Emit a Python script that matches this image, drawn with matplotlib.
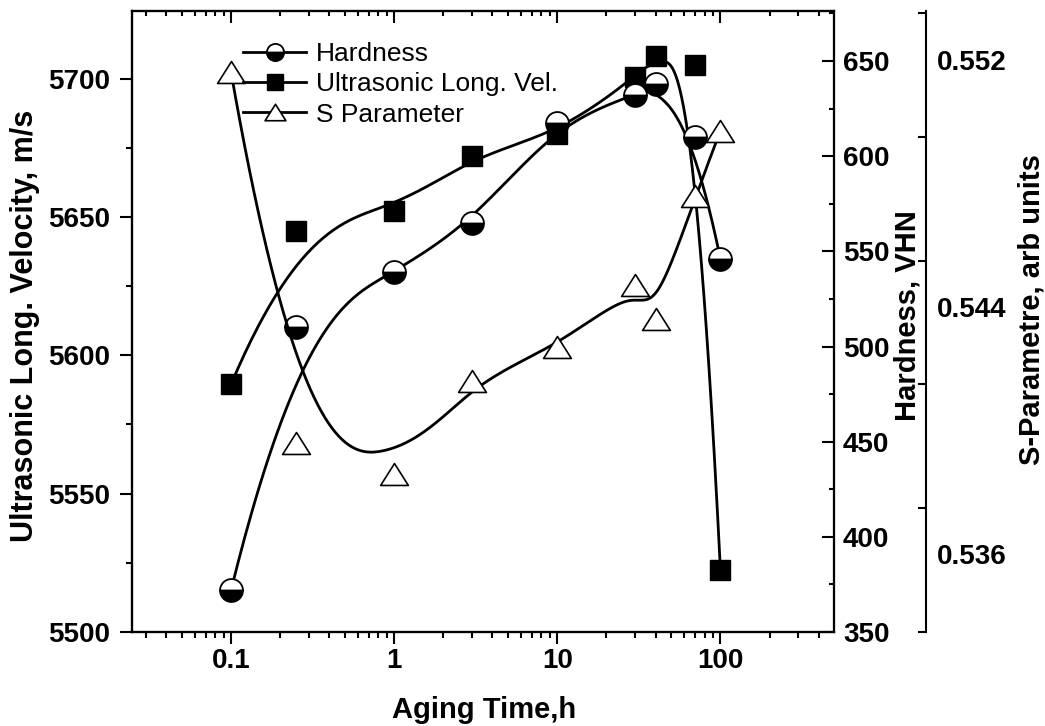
import numpy as np
import matplotlib
matplotlib.use('Agg')
import matplotlib.pyplot as plt
from matplotlib.lines import Line2D
from matplotlib.path import Path
from matplotlib.ticker import MultipleLocator, LogLocator, NullFormatter, FixedLocator

plt.rcParams['font.family'] = ['Liberation Sans', 'DejaVu Sans']

# data
aging_time = [0.1, 0.25, 1, 3, 10, 30, 40, 70, 100]
hardness = [372, 510, 539, 565, 617.5, 632, 638, 610, 546]
velocity = [5589.5, 5645, 5652, 5672, 5680, 5700.5, 5708, 5705, 5522.5]
s_param = [0.5516, 0.5396, 0.5386, 0.5416, 0.5427, 0.5447, 0.5436, 0.5476, 0.5497]

hard_ticks = [350, 400, 450, 500, 550, 600, 650]
vel_ticks = [5500, 5550, 5600, 5650, 5700]
s_ticks = [0.536, 0.544, 0.552]


def bspline(xs, ys, n=500, k=3):
    # clamped cubic B-spline with the points as control points (log x)
    px = np.log10(np.asarray(xs, float))
    py = np.asarray(ys, float)
    m = len(px)
    knots = np.concatenate([np.zeros(k), np.arange(m - k + 1), np.full(k, m - k)]).astype(float)
    t = np.linspace(0, m - k, n)
    t[-1] -= 1e-9

    def basis(i, p):
        if p == 0:
            return ((knots[i] <= t) & (t < knots[i + 1])).astype(float)
        out = np.zeros_like(t)
        d1 = knots[i + p] - knots[i]
        d2 = knots[i + p + 1] - knots[i + 1]
        if d1 > 0:
            out += (t - knots[i]) / d1 * basis(i, p - 1)
        if d2 > 0:
            out += (knots[i + p + 1] - t) / d2 * basis(i + 1, p - 1)
        return out

    N = np.column_stack([basis(i, k) for i in range(m)])
    return 10 ** (N @ px), N @ py


W, H = 1045, 726
fig = plt.figure(figsize=(W / 100, H / 100), dpi=100)
L, R, T, B = 132, 834, 11, 632
ax = fig.add_axes([L / W, 1 - B / H, (R - L) / W, (B - T) / H])
ax2 = ax.twinx()
ax3 = ax.twinx()
axtop = ax.twiny()

tri = Path([[0, 0.79], [-1, -0.79], [1, -0.79], [0, 0.79]], closed=True)
lw = 2.0

# velocity
cx, cy = bspline(aging_time, velocity)
ax.plot(cx, cy, color='black', lw=lw, zorder=2)
ax.plot(aging_time, velocity, ls='none', marker='s', ms=15, mfc='black', mec='black', zorder=3)

# hardness
cx, cy = bspline(aging_time, hardness)
ax2.plot(cx, cy, color='black', lw=lw, zorder=2)
ax2.plot(aging_time, hardness, ls='none', marker='o', ms=16.5, fillstyle='bottom',
         mfc='black', mfcalt='white', mec='black', mew=1.3, zorder=3)

# S parameter
cx, cy = bspline(aging_time, s_param)
ax3.plot(cx, cy, color='black', lw=lw, zorder=2)
ax3.plot(aging_time, s_param, ls='none', marker=tri, ms=20, mfc='white', mec='black', mew=1.2, zorder=3)

for a in (ax, ax2, ax3, axtop):
    for sp in a.spines.values():
        sp.set_linewidth(1.5)

ax.set_xscale('log')
ax.set_xlim(0.0247, 497)
ax.set_ylim(5500, 5724.4)
ax2.set_ylim(350, 676.3)
ax3.set_ylim(0.53349, 0.55358)

ax.set_xticks([0.1, 1, 10, 100])
ax.set_xticklabels(['0.1', '1', '10', '100'])
ax.xaxis.set_minor_locator(LogLocator(base=10, subs=np.arange(2, 10)))
ax.xaxis.set_minor_formatter(NullFormatter())
ax.set_yticks(vel_ticks)
ax.yaxis.set_minor_locator(MultipleLocator(25))

ax.tick_params(axis='both', which='major', direction='out', length=8.6, width=1.5,
               labelsize=20, right=False, top=False)
ax.tick_params(axis='both', which='minor', direction='out', length=4.5, width=1.5,
               right=False, top=False)
ax.tick_params(axis='x', which='major', pad=3)
ax.tick_params(axis='y', which='major', pad=7)
for lab in ax.get_xticklabels() + ax.get_yticklabels():
    lab.set_fontweight('bold')

# top ticks pointing inward
axtop.set_xscale('log')
axtop.set_xlim(ax.get_xlim())
axtop.set_xticks([0.1, 1, 10, 100])
axtop.xaxis.set_minor_locator(LogLocator(base=10, subs=np.arange(2, 10)))
axtop.xaxis.set_minor_formatter(NullFormatter())
axtop.tick_params(axis='x', which='major', direction='in', length=8.6, width=1.5, labeltop=False)
axtop.tick_params(axis='x', which='minor', direction='in', length=3.6, width=1.5)

# hardness axis
ax2.set_yticks(hard_ticks)
ax2.yaxis.set_minor_locator(MultipleLocator(25))
ax2.tick_params(axis='y', which='major', direction='in', length=8.6, width=1.5,
                labelsize=20, pad=6.5)
ax2.tick_params(axis='y', which='minor', direction='in', length=3.6, width=1.5)
for lab in ax2.get_yticklabels():
    lab.set_fontweight('bold')

# S parameter axis, offset to the right
ax3.spines['right'].set_position(('axes', (926 - L) / (R - L)))
ax3.set_yticks(s_ticks)
ax3.set_yticklabels(['0.536', '0.544', '0.552'])
ax3.yaxis.set_minor_locator(FixedLocator([0.5335, 0.5375, 0.5415, 0.5455, 0.5495, 0.5535]))
ax3.tick_params(axis='y', which='major', direction='in', length=0, labelsize=20, pad=8)
ax3.tick_params(axis='y', which='minor', direction='in', length=5.5, width=1.5)
for lab in ax3.get_yticklabels():
    lab.set_fontweight('bold')

# axis titles
fig.text(484.5 / W, 1 - 718 / H, 'Aging Time,h', fontsize=21, fontweight='bold',
         ha='center', va='baseline')
fig.text(33 / W, 1 - 326 / H, 'Ultrasonic Long. Velocity, m/s', fontsize=22, fontweight='bold',
         rotation=90, rotation_mode='anchor', ha='center', va='baseline')
fig.text(915 / W, 1 - 316 / H, 'Hardness, VHN', fontsize=21, fontweight='bold',
         rotation=90, rotation_mode='anchor', ha='center', va='baseline')
fig.text(1040 / W, 1 - 310 / H, 'S-Parametre, arb units', fontsize=21, fontweight='bold',
         rotation=90, rotation_mode='anchor', ha='center', va='baseline')

# legend
handles = [
    Line2D([], [], color='black', lw=lw, marker='o', ms=16.5, fillstyle='bottom',
           mfc='black', mfcalt='white', mec='black', mew=1.3),
    Line2D([], [], color='black', lw=lw, marker='s', ms=15, mfc='black', mec='black'),
    Line2D([], [], color='black', lw=lw, marker=tri, ms=20, mfc='white', mec='black', mew=1.2),
]
labels = ['Hardness', 'Ultrasonic Long. Vel.', 'S Parameter']
axtop.legend(handles, labels, loc='upper left', bbox_to_anchor=(243 / W, 1 - 42 / H),
             bbox_transform=fig.transFigure, frameon=False, borderpad=0, borderaxespad=0,
             handlelength=2.4, handletextpad=0.35, labelspacing=0.24, markerscale=0.75,
             prop={'family': 'Liberation Sans', 'size': 19})

fig.savefig('out.png', dpi=100)
